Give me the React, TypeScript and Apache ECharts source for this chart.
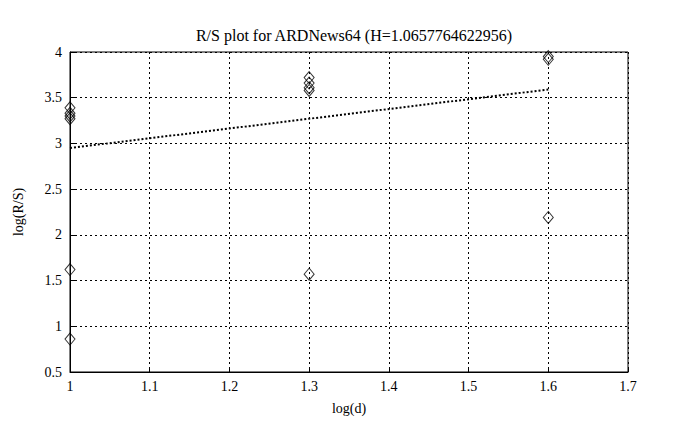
import React, { useEffect, useRef } from "react";
import * as echarts from "echarts";

const titleText = "R/S plot for ARDNews64 (H=1.0657764622956)";
const xTicks = { min: 1, max: 1.7, interval: 0.1 };
const yTicks = { min: 0.5, max: 4, interval: 0.5 };
const pointsX1 = [3.39, 3.33, 3.3, 3.27, 1.62, 0.86];
const pointsX13 = [3.72, 3.66, 3.61, 3.58, 1.57];
const pointsX16 = [3.95, 3.92, 2.19];
const fitLine = [
  [1, 2.95],
  [1.6, 3.59],
];

const font = "Liberation Serif";

export default function App() {
  const ref = useRef<HTMLDivElement>(null);
  useEffect(() => {
    if (!ref.current) return;
    const chart = echarts.init(ref.current, undefined, { renderer: "svg" });
    const scatterData: number[][] = [
      ...pointsX1.map((v) => [1, v]),
      ...pointsX13.map((v) => [1.3, v]),
      ...pointsX16.map((v) => [1.6, v]),
    ];
    const axisCommon = {
      axisLine: { show: true, onZero: false, lineStyle: { color: "#000", width: 1 } },
      axisTick: { show: true, inside: true, length: 5, lineStyle: { color: "#000" } },
      splitLine: { show: true, lineStyle: { color: "#000", type: [2, 3], width: 1 } },
      axisLabel: { color: "#000", fontFamily: font, fontSize: 14 },
      nameTextStyle: { color: "#000", fontFamily: font, fontSize: 14 },
    };
    chart.setOption({
      animation: false,
      backgroundColor: "#fff",
      title: {
        text: titleText,
        left: 349,
        top: 22,
        textAlign: "center",
        textStyle: { fontFamily: font, fontSize: 16, fontWeight: "normal", color: "#000" },
      },
      grid: { left: 70, right: 58, top: 52, bottom: 58, show: true, borderColor: "#000", borderWidth: 1 },
      xAxis: {
        type: "value",
        min: xTicks.min,
        max: xTicks.max,
        interval: xTicks.interval,
        name: "log(d)",
        nameLocation: "middle",
        nameGap: 29,
        ...axisCommon,
        axisLabel: { ...axisCommon.axisLabel, margin: 7 },
      },
      yAxis: {
        type: "value",
        min: yTicks.min,
        max: yTicks.max,
        interval: yTicks.interval,
        name: "log(R/S)",
        nameLocation: "middle",
        nameGap: 45,
        ...axisCommon,
        axisLabel: { ...axisCommon.axisLabel, margin: 8 },
      },
      series: [
        {
          type: "line",
          data: fitLine,
          symbol: "none",
          lineStyle: { color: "#000", width: 2, type: [2, 2] },
          z: 3,
        },
        {
          type: "scatter",
          data: scatterData,
          symbol: "diamond",
          symbolSize: [10, 12],
          itemStyle: { color: "none", borderColor: "#000", borderWidth: 1 },
          z: 4,
        },
      ],
    });
    return () => chart.dispose();
  }, []);
  return (
    <div
      ref={ref}
      style={{ position: "fixed", left: 0, top: 0, width: 686, height: 430, background: "#fff" }}
    />
  );
}
